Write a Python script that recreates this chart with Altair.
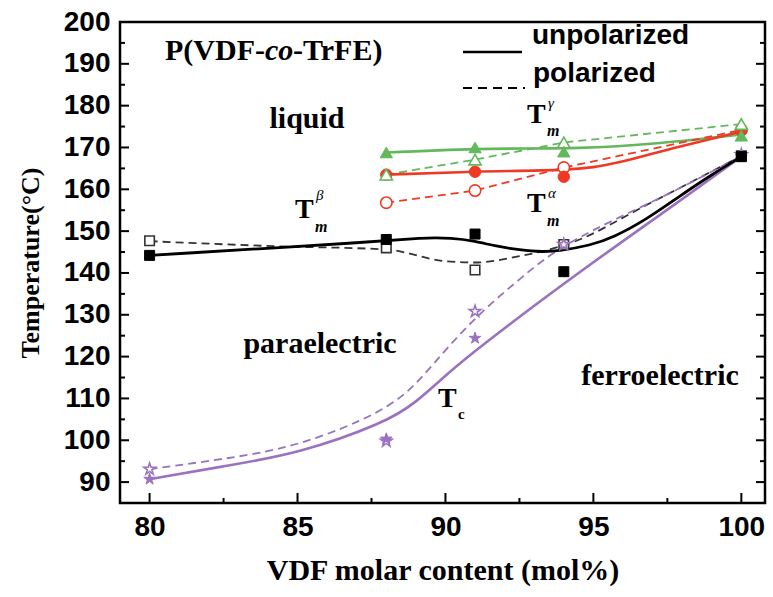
import altair as alt
import pandas as pd

# ---------------- data ----------------
comp = [80, 88, 91, 94, 100]
beta_unpol = [144.2, 148.0, 149.3, 140.3, 167.8]
beta_pol = [147.7, 146.0, 140.7, 146.8, 168.0]

tc_unpol_x = [80, 88, 91, 100]
tc_unpol = [90.7, 100.3, 124.4, 167.8]
tc_pol = [93.1, 99.8, 130.8, 146.8, 168.3]

comp_hi = [88, 91, 94, 100]
alpha_unpol = [163.5, 164.2, 163.0, 174.0]
alpha_pol = [156.8, 159.7, 165.2, 174.2]
gamma_unpol = [168.8, 170.0, 169.0, 172.8]
gamma_pol = [163.5, 167.1, 171.2, 175.6]

# smoothed guide curves
beta_unpol_cx = [80, 88, 89.1, 90.25, 91, 91.7, 92.5, 93.3, 93.85, 94.9, 95.65, 96.8, 97.9, 99, 100]
beta_unpol_cy = [144.2, 147.6, 148.4, 148.4, 147.6, 146.4, 145.5, 145.0, 145.3, 146.6, 148.4, 152.8, 158.3, 163.5, 167.8]
beta_pol_cx = [80, 84.2, 88, 90, 91, 92.5, 93.5, 94, 97, 100]
beta_pol_cy = [147.6, 146.4, 145.6, 142.8, 142.5, 144.0, 145.6, 146.6, 157.0, 168.0]

tc_unpol_cx = [80, 82.5, 85, 88, 89, 90, 91, 94.5, 98, 100]
tc_unpol_cy = [90.7, 93.8, 96.7, 104.3, 109.0, 115.5, 121.5, 140.2, 157.6, 167.8]
tc_pol_cx = [80, 82.5, 85, 88, 89.1, 90.1, 91.25, 92.5, 94, 97.5, 100]
tc_pol_cy = [93.1, 95.5, 98.4, 107.0, 114.0, 122.5, 131.0, 138.5, 147.3, 158.5, 168.0]

alpha_unpol_cx = [88, 91, 94, 95, 97.9, 100]
alpha_unpol_cy = [163.5, 164.2, 164.7, 165.3, 170.2, 173.8]
gamma_unpol_cx = [88, 91, 94.5, 100]
gamma_unpol_cy = [168.8, 169.6, 169.9, 173.1]

x_major = [80, 85, 90, 95, 100]
x_minor = [82.5, 87.5, 92.5, 97.5]
y_major = [90, 100, 110, 120, 130, 140, 150, 160, 170, 180, 190, 200]
y_minor = [95, 105, 115, 125, 135, 145, 155, 165, 175, 185, 195]

legend_labels = ["unpolarized", "polarized"]

# ---------------- styling ----------------
BLACK = "#000000"
DGRAY = "#333333"
GREEN = "#62b85a"
RED = "#ee3a24"
PURPLE = "#9a72c0"
STAR = "M0,-1L0.225,-0.309L0.951,-0.309L0.363,0.118L0.588,0.809L0,0.382L-0.588,0.809L-0.363,0.118L-0.951,-0.309L-0.225,-0.309Z"

W, H = 645, 481
xscale = alt.Scale(domain=[79, 100.8], nice=False, zero=False)
yscale = alt.Scale(domain=[85, 200], nice=False, zero=False)

xaxis = alt.Axis(title="VDF molar content (mol%)", values=x_major, format="d",
                 ticks=False, domain=False, grid=False, labelFlush=False,
                 labelFont="Liberation Sans", labelFontWeight="bold", labelFontSize=28,
                 labelColor="black", labelPadding=10,
                 titleFont="Liberation Serif", titleFontWeight="bold", titleFontSize=30,
                 titleColor="#000000", titlePadding=14)
yaxis = alt.Axis(title="Temperature(°C)", values=y_major, format="d",
                 ticks=False, domain=False, grid=False,
                 labelFont="Liberation Sans", labelFontWeight="bold", labelFontSize=28,
                 labelColor="black", labelPadding=10,
                 titleFont="Liberation Serif", titleFontWeight="bold", titleFontSize=26,
                 titleColor="#000000", titlePadding=20)


def X():
    return alt.X("x:Q", scale=xscale, axis=xaxis)


def Y():
    return alt.Y("y:Q", scale=yscale, axis=yaxis)


def curve(xs, ys, color, dash=None, width=2.6, interp="monotone"):
    kw = dict(color=color, strokeWidth=width, interpolate=interp)
    if dash:
        kw["strokeDash"] = dash
    return alt.Chart(pd.DataFrame({"x": xs, "y": ys})).mark_line(**kw).encode(x=X(), y=Y())


def pts(xs, ys, shape, color, filled, size):
    df = pd.DataFrame({"x": xs, "y": ys})
    if filled:
        m = alt.Chart(df).mark_point(shape=shape, filled=True, fill=color, stroke=color,
                                     strokeWidth=1, size=size, opacity=1)
    else:
        m = alt.Chart(df).mark_point(shape=shape, filled=True, fill="white", stroke=color,
                                     strokeWidth=1.6, size=size, opacity=1)
    return m.encode(x=X(), y=Y())


def txt(s, x, y, size=30, font="Liberation Serif", weight="bold", style="normal", align="left"):
    return alt.Chart(pd.DataFrame({"t": [s]})).mark_text(
        align=align, baseline="alphabetic", font=font, fontSize=size,
        fontWeight=weight, fontStyle=style, color="black"
    ).encode(x=alt.value(x), y=alt.value(y), text="t:N")


layers = []

# ticks (inward)
layers.append(alt.Chart(pd.DataFrame({"y": y_major})).mark_rule(color="black", strokeWidth=2)
              .encode(y=Y(), x=alt.value(0), x2=alt.value(9)))
layers.append(alt.Chart(pd.DataFrame({"y": y_minor})).mark_rule(color="black", strokeWidth=2)
              .encode(y=Y(), x=alt.value(0), x2=alt.value(5)))
layers.append(alt.Chart(pd.DataFrame({"y": y_major})).mark_rule(color="black", strokeWidth=2)
              .encode(y=Y(), x=alt.value(W), x2=alt.value(W - 9)))
layers.append(alt.Chart(pd.DataFrame({"y": y_minor})).mark_rule(color="black", strokeWidth=2)
              .encode(y=Y(), x=alt.value(W), x2=alt.value(W - 5)))
layers.append(alt.Chart(pd.DataFrame({"x": x_major})).mark_rule(color="black", strokeWidth=2)
              .encode(x=X(), y=alt.value(H), y2=alt.value(H - 10)))
layers.append(alt.Chart(pd.DataFrame({"x": x_minor})).mark_rule(color="black", strokeWidth=2)
              .encode(x=X(), y=alt.value(H), y2=alt.value(H - 5)))

# curves
layers += [
    curve(gamma_unpol_cx, gamma_unpol_cy, GREEN),
    curve(comp_hi, gamma_pol, GREEN, dash=[8, 5], width=1.8, interp="linear"),
    curve(alpha_unpol_cx, alpha_unpol_cy, RED),
    curve(comp_hi, alpha_pol, RED, dash=[8, 5], width=1.8, interp="linear"),
    curve(beta_pol_cx, beta_pol_cy, DGRAY, dash=[8, 5], width=1.8),
    curve(tc_pol_cx, tc_pol_cy, PURPLE, dash=[8, 5], width=1.8, interp="basis"),
    curve(tc_unpol_cx, tc_unpol_cy, PURPLE, width=2.6, interp="basis"),
    curve(beta_unpol_cx, beta_unpol_cy, BLACK, width=2.8, interp="basis"),
]

# markers
layers += [
    pts(comp, beta_pol, "square", DGRAY, False, 90),
    pts(comp, tc_pol, STAR, PURPLE, False, 150),
    pts(tc_unpol_x, tc_unpol, STAR, PURPLE, True, 150),
    pts(comp, beta_unpol, "square", BLACK, True, 100),
    pts(comp_hi, alpha_pol, "circle", RED, False, 130),
    pts(comp_hi, alpha_unpol, "circle", RED, True, 130),
    pts(comp_hi, gamma_pol, "triangle-up", GREEN, False, 150),
    pts(comp_hi, gamma_unpol, "triangle-up", GREEN, True, 150),
]

# legend (drawn)
layers.append(alt.Chart(pd.DataFrame({"k": [0]})).mark_rule(color="black", strokeWidth=2.6)
              .encode(x=alt.value(343), x2=alt.value(402), y=alt.value(30)))
layers.append(alt.Chart(pd.DataFrame({"k": [0]})).mark_rule(color="black", strokeWidth=2, strokeDash=[9, 6])
              .encode(x=alt.value(343), x2=alt.value(405), y=alt.value(66)))
layers.append(txt(legend_labels[0], 412, 22, size=28, font="Liberation Sans"))
layers.append(txt(legend_labels[1], 413, 60, size=28, font="Liberation Sans"))

# annotations
layers += [
    txt("P(VDF-", 45, 38),
    txt("co", 145, 38, style="italic"),
    txt("-TrFE)", 173, 38),
    txt("liquid", 187, 106, align="center"),
    txt("paraelectric", 200, 331, align="center"),
    txt("ferroelectric", 540, 363, align="center"),
    txt("T", 175, 196, size=28),
    txt("β", 196, 178, size=15, weight="normal", style="italic"),
    txt("m", 195, 210, size=16, style="italic"),
    txt("T", 407, 101, size=28),
    txt("γ", 428, 86, size=15, weight="normal", style="italic"),
    txt("m", 427, 114, size=16, style="italic"),
    txt("T", 407, 190, size=28),
    txt("α", 428, 176, size=15, weight="normal", style="italic"),
    txt("m", 427, 204, size=16, style="italic"),
    txt("T", 318, 385, size=28),
    txt("c", 338, 397, size=15),
]

chart = alt.layer(*layers).properties(
    width=W, height=H,
    autosize=alt.AutoSizeParams(type="none"),
    padding={"left": 120, "top": 22, "right": 8, "bottom": 94},
    background="white",
).configure_view(stroke="black", strokeWidth=2.5)

chart.save("out.html", embed_options={"renderer": "svg", "actions": False})
